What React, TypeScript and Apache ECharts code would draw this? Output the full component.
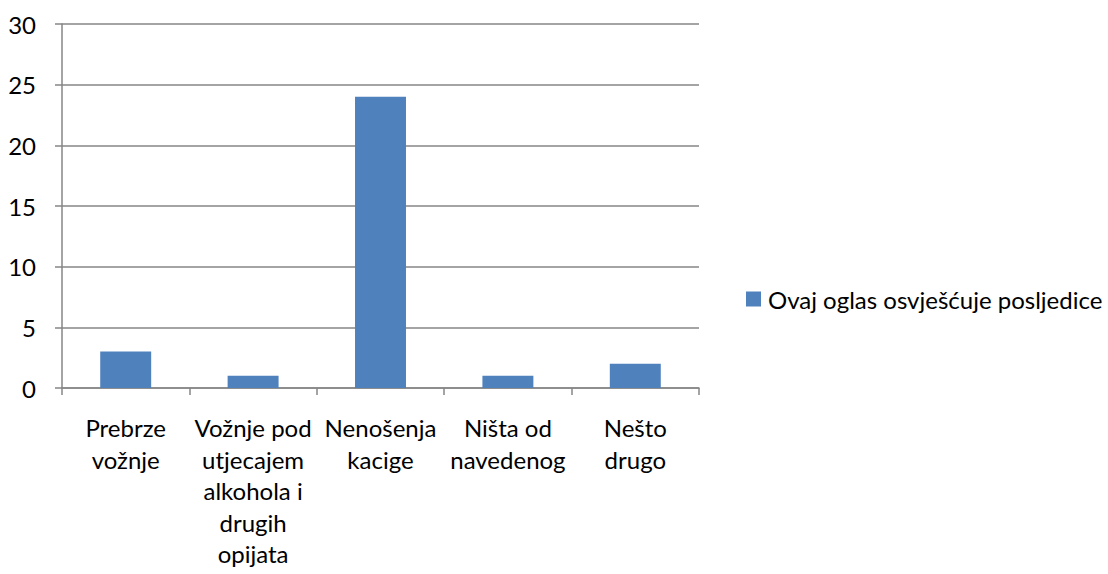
import React, { useEffect, useRef } from "react";
import * as echarts from "echarts";

const categories = [
  "Prebrze\nvožnje",
  "Vožnje pod\nutjecajem\nalkohola i\ndrugih\nopijata",
  "Nenošenja\nkacige",
  "Ništa od\nnavedenog",
  "Nešto\ndrugo",
];
const values = [3, 1, 24, 1, 2];
const seriesName = "Ovaj oglas osvješćuje posljedice";

const FONT = "Lato, 'Liberation Sans', sans-serif";

export default function App() {
  const ref = useRef<HTMLDivElement>(null);
  useEffect(() => {
    if (!ref.current) return;
    const chart = echarts.init(ref.current, undefined, { renderer: "svg" });
    chart.setOption({
      animation: false,
      textStyle: { fontFamily: FONT },
      grid: { left: 62, top: 24, right: 409, bottom: 186, containLabel: false, outerBoundsMode: "none" },
      legend: {
        orient: "vertical",
        left: 741,
        top: 282,
        itemWidth: 15,
        itemHeight: 15,
        itemGap: 6,
        textStyle: { fontSize: 24, color: "#000", fontFamily: FONT, padding: [0, 0, 0, 2] },
        data: [{ name: seriesName, icon: "rect" }],
      },
      xAxis: {
        type: "category",
        data: categories,
        axisLine: { lineStyle: { color: "#868686", width: 1.5 } },
        axisTick: { show: true, length: 7, alignWithLabel: false, lineStyle: { color: "#868686", width: 1.5 } },
        axisLabel: {
          interval: 0,
          margin: 24,
          fontSize: 24,
          lineHeight: 31.5,
          color: "#000",
          fontFamily: FONT,
          align: "center",
        },
      },
      yAxis: {
        type: "value",
        min: 0,
        max: 30,
        interval: 5,
        axisLine: { show: true, lineStyle: { color: "#868686", width: 1.5 } },
        axisTick: { show: true, length: 7, lineStyle: { color: "#868686", width: 1.5 } },
        splitLine: { show: true, lineStyle: { color: "#868686", width: 1.5 } },
        axisLabel: { fontSize: 24, color: "#000", margin: 26, fontFamily: FONT },
      },
      series: [
        {
          name: seriesName,
          type: "bar",
          data: values,
          barWidth: "40%",
          itemStyle: { color: "#4F81BD" },
        },
      ],
    });
    return () => chart.dispose();
  }, []);
  return (
    <div
      ref={ref}
      style={{ position: "fixed", left: 0, top: 0, width: 1108, height: 574, background: "#fff" }}
    />
  );
}
